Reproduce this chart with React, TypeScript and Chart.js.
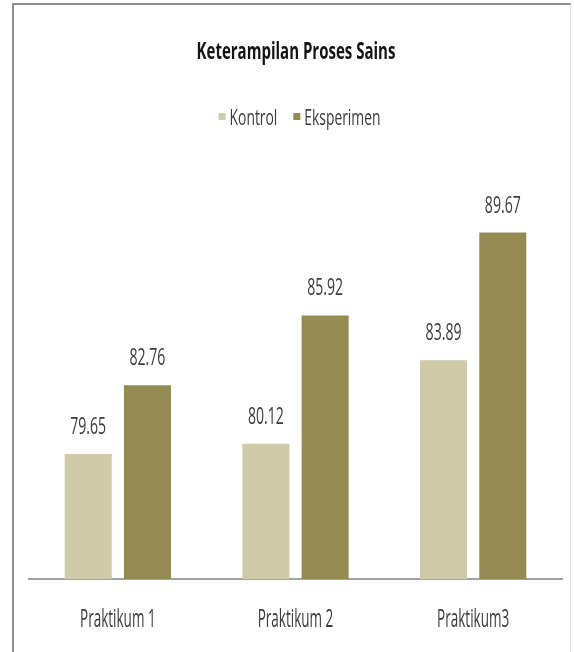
import React, { useEffect, useRef } from "react";
import { Chart, registerables } from "chart.js";

Chart.register(...registerables);

// ---- data ----
const titleText = "Keterampilan Proses Sains";
const categories = ["Praktikum 1", "Praktikum 2", "Praktikum3"];
const seriesNames = ["Kontrol", "Eksperimen"];
const kontrolValues = [79.65, 80.12, 83.89];
const eksperimenValues = [82.76, 85.92, 89.67];
const yMin = 74;
const yMax = 92;

// ---- styles ----
const COLORS = ["#cfcaa8", "#938b52"];
const FONT = "'Open Sans', 'Noto Sans', sans-serif";
const TEXT_COLOR = "#3c3c3c";

function drawSquished(
  ctx: CanvasRenderingContext2D,
  text: string,
  x: number,
  y: number,
  size: number,
  weight: string,
  sx: number,
  color: string,
  align: CanvasTextAlign
) {
  ctx.save();
  ctx.font = `${weight} ${size}px ${FONT}`;
  ctx.fillStyle = color;
  ctx.textBaseline = "alphabetic";
  ctx.textAlign = align;
  ctx.translate(x, y);
  ctx.scale(sx, 1);
  ctx.fillText(text, 0, 0);
  ctx.restore();
}

const textPlugin = {
  id: "squishedText",
  afterDraw(chart: any) {
    const ctx: CanvasRenderingContext2D = chart.ctx;
    const area = chart.chartArea;
    const cx = (area.left + area.right) / 2;

    // title
    drawSquished(ctx, titleText, cx + 0.5, 59, 23, "bold", 0.653, "#141414", "center");

    // legend
    const legSize = 21;
    const legSx = 0.66;
    const box = 7;
    const boxGap = 4;
    const itemGap = 16;
    ctx.save();
    ctx.font = `normal ${legSize}px ${FONT}`;
    const widths = seriesNames.map((n) => ctx.measureText(n).width * legSx);
    ctx.restore();
    const total =
      widths.reduce((a, w) => a + box + boxGap + w, 0) + itemGap * (seriesNames.length - 1);
    let lx = cx + 4 - total / 2;
    seriesNames.forEach((name, i) => {
      ctx.save();
      ctx.fillStyle = COLORS[i];
      ctx.fillRect(lx, 113, box, box);
      ctx.restore();
      drawSquished(ctx, name, lx + box + boxGap, 125, legSize, "normal", legSx, TEXT_COLOR, "left");
      lx += box + boxGap + widths[i] + itemGap;
    });

    // category tick labels
    const xs = chart.scales.x;
    categories.forEach((c, i) => {
      drawSquished(ctx, c, xs.getPixelForValue(i), 627, 26, "normal", 0.52, TEXT_COLOR, "center");
    });

    // data labels
    chart.data.datasets.forEach((ds: any, di: number) => {
      const meta = chart.getDatasetMeta(di);
      meta.data.forEach((el: any, i: number) => {
        drawSquished(
          ctx,
          Number(ds.data[i]).toFixed(2),
          el.x,
          el.y - 20,
          24,
          "normal",
          0.587,
          TEXT_COLOR,
          "center"
        );
      });
    });
  },
};

export default function App() {
  const canvasRef = useRef<HTMLCanvasElement | null>(null);

  useEffect(() => {
    const canvas = canvasRef.current;
    if (!canvas) return;
    const chart = new Chart(canvas, {
      type: "bar",
      data: {
        labels: categories,
        datasets: [
          {
            label: seriesNames[0],
            data: kontrolValues,
            backgroundColor: COLORS[0],
            borderWidth: 0,
            categoryPercentage: 0.667,
            barPercentage: 0.794,
          },
          {
            label: seriesNames[1],
            data: eksperimenValues,
            backgroundColor: COLORS[1],
            borderWidth: 0,
            categoryPercentage: 0.667,
            barPercentage: 0.794,
          },
        ],
      },
      options: {
        responsive: false,
        animation: false,
        devicePixelRatio: 1,
        layout: { padding: { left: 29, right: 12, top: 181, bottom: 73 } },
        plugins: {
          legend: { display: false },
          title: { display: false },
          tooltip: { enabled: false },
        },
        scales: {
          x: {
            display: true,
            grid: { display: false, drawTicks: false },
            ticks: { display: false },
            border: { display: true, color: "#a3a3a3", width: 2 },
          },
          y: {
            display: false,
            min: yMin,
            max: yMax,
          },
        },
      },
      plugins: [textPlugin],
    });
    return () => chart.destroy();
  }, []);

  return (
    <div
      style={{
        position: "fixed",
        left: 0,
        top: 0,
        width: 574,
        height: 652,
        background: "#ffffff",
        overflow: "hidden",
      }}
    >
      <div
        style={{
          position: "absolute",
          left: 12,
          top: 3,
          width: 559,
          height: 660,
          borderLeft: "2px solid #8e8e8e",
          borderTop: "2px solid #8e8e8e",
          borderRight: "1px solid #e4e4e4",
          boxSizing: "border-box",
        }}
      />
      <canvas
        ref={canvasRef}
        width={574}
        height={652}
        style={{ position: "absolute", left: 0, top: 0, width: 574, height: 652 }}
      />
    </div>
  );
}
